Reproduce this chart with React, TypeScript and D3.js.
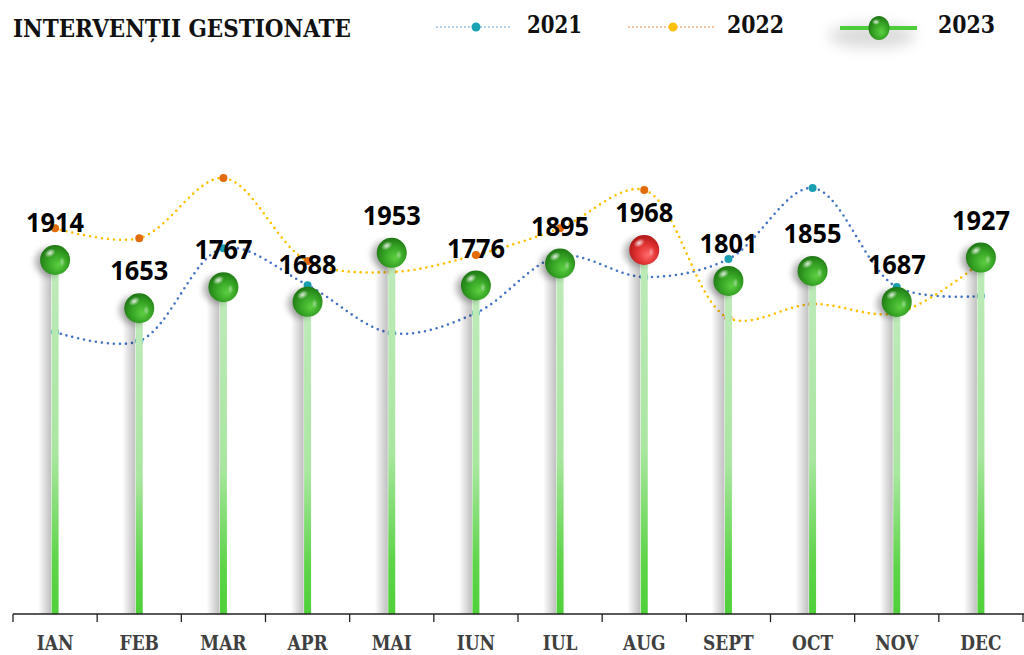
import React from "react";
import * as d3 from "d3";

const months = ["IAN", "FEB", "MAR", "APR", "MAI", "IUN", "IUL", "AUG", "SEPT", "OCT", "NOV", "DEC"];
const values2021 = [1524, 1476, 1978, 1778, 1519, 1627, 1935, 1822, 1919, 2303, 1768, 1719];
const values2022 = [2086, 2032, 2357, 1908, 1849, 1941, 2086, 2292, 1600, 1676, 1627, 1900];
const values2023 = [1914, 1653, 1767, 1688, 1953, 1776, 1895, 1968, 1801, 1855, 1687, 1927];
const seriesNames = ["2021", "2022", "2023"];
const title = "INTERVENȚII GESTIONATE";

const W = 1024;
const H = 655;
const serif = "'DejaVu Serif Condensed', 'DejaVu Serif', serif";
const sans = "'Open Sans', 'Noto Sans', sans-serif";

export default function App() {
  const x = d3.scaleBand<string>().domain(months).range([13, 1023]).padding(0);
  const y = d3.scaleLinear().domain([0, 2500]).range([614, 151.6]);
  const bw = x.bandwidth();
  const cx = (m: string) => (x(m) as number) + bw / 2;

  const line = d3
    .line<number>()
    .x((_, i) => cx(months[i]))
    .y((v) => y(v))
    .curve(d3.curveCatmullRom.alpha(0.5));

  const maxV = d3.max(values2023) as number;
  const ticks = [...months.map((m) => x(m) as number), 1023];
  const baseY = y(0);

  return (
    <svg width={W} height={H} style={{ position: "absolute", left: 0, top: 0, background: "#fff" }}>
      <defs>
        <linearGradient id="stemGrad" x1="0" y1="0" x2="0" y2="1">
          <stop offset="0" stopColor="#bfeabb" />
          <stop offset="0.55" stopColor="#a9e6a0" />
          <stop offset="0.85" stopColor="#5fd44a" />
          <stop offset="1" stopColor="#4fd03a" />
        </linearGradient>
        <linearGradient id="stemShadow" x1="0" y1="0" x2="1" y2="0">
          <stop offset="0" stopColor="#000" stopOpacity="0" />
          <stop offset="1" stopColor="#000" stopOpacity="0.25" />
        </linearGradient>
        <radialGradient id="ballGreen" cx="0.55" cy="0.6" r="0.6" fx="0.62" fy="0.68">
          <stop offset="0" stopColor="#5ccf41" />
          <stop offset="0.55" stopColor="#37a525" />
          <stop offset="1" stopColor="#1f7814" />
        </radialGradient>
        <radialGradient id="ballRed" cx="0.55" cy="0.6" r="0.6" fx="0.62" fy="0.68">
          <stop offset="0" stopColor="#ff6b6b" />
          <stop offset="0.55" stopColor="#e23232" />
          <stop offset="1" stopColor="#b01818" />
        </radialGradient>
        <radialGradient id="hl" cx="0.5" cy="0.5" r="0.5">
          <stop offset="0" stopColor="#fff" stopOpacity="0.85" />
          <stop offset="1" stopColor="#fff" stopOpacity="0" />
        </radialGradient>
        <filter id="blur" x="-50%" y="-50%" width="200%" height="200%">
          <feGaussianBlur stdDeviation="3" />
        </filter>
        <filter id="blurBig" x="-50%" y="-50%" width="200%" height="200%">
          <feGaussianBlur stdDeviation="7" />
        </filter>
      </defs>

      {/* series lines */}
      <path d={line(values2021) as string} fill="none" stroke="#4472c4" strokeWidth={2.6} strokeDasharray="0 6" strokeLinecap="round" />
      <path d={line(values2022) as string} fill="none" stroke="#ffc000" strokeWidth={2.6} strokeDasharray="0 6" strokeLinecap="round" />
      {values2021.map((v, i) => (
        <circle key={"a" + i} cx={cx(months[i])} cy={y(v)} r={4} fill="#1b9fb0" />
      ))}
      {values2022.map((v, i) => (
        <circle key={"b" + i} cx={cx(months[i])} cy={y(v)} r={4} fill="#e36c0a" />
      ))}

      {/* stems */}
      {values2023.map((v, i) => {
        const c = cx(months[i]);
        return (
          <g key={"s" + i}>
            <rect x={c - 17} y={y(v)} width={13} height={baseY - y(v)} fill="url(#stemShadow)" />
            <rect x={c - 3.5} y={y(v)} width={7} height={baseY - y(v)} fill="url(#stemGrad)" />
          </g>
        );
      })}

      {/* balls */}
      {values2023.map((v, i) => {
        const c = cx(months[i]);
        const cy = y(v);
        const isMax = v === maxV;
        return (
          <g key={"ball" + i}>
            <circle cx={c - 6} cy={cy + 2} r={14} fill="#000" opacity={0.3} filter="url(#blur)" />
            <circle cx={c} cy={cy} r={15} fill={isMax ? "url(#ballRed)" : "url(#ballGreen)"} />
            <ellipse cx={c - 5} cy={cy - 7} rx={6} ry={4} fill="url(#hl)" transform={`rotate(-30 ${c - 5} ${cy - 7})`} />
            <ellipse cx={c + 7} cy={cy + 2} rx={3} ry={5} fill="url(#hl)" opacity={0.5} />
          </g>
        );
      })}

      {/* data labels */}
      {values2023.map((v, i) => (
        <text
          key={"l" + i}
          x={cx(months[i])}
          y={y(v) - 28}
          textAnchor="middle"
          fontFamily={sans}
          fontWeight={700}
          fontSize={27}
          textLength={58}
          lengthAdjust="spacingAndGlyphs"
          fill="#000"
        >
          {v}
        </text>
      ))}

      {/* axis */}
      <line x1={13} x2={1024} y1={baseY} y2={baseY} stroke="#222" strokeWidth={1.3} />
      {ticks.map((t, i) => (
        <line key={"t" + i} x1={t} x2={t} y1={baseY} y2={baseY + 8} stroke="#222" strokeWidth={1.3} />
      ))}
      {months.map((m) => (
        <text
          key={m}
          transform={`translate(${cx(m)},650) scale(0.9,1)`}
          textAnchor="middle"
          fontFamily={serif}
          fontWeight={700}
          fontSize={21}
          fill="#404040"
        >
          {m}
        </text>
      ))}

      {/* title */}
      <text x={13} y={36.5} fontFamily={serif} fontWeight={700} fontSize={25} textLength={338} lengthAdjust="spacingAndGlyphs" fill="#111">
        {title}
      </text>

      {/* legend */}
      <line x1={437} x2={512} y1={27} y2={27} stroke="#9dc3e6" strokeWidth={2} strokeDasharray="0 4" strokeLinecap="round" />
      <circle cx={476} cy={27} r={4.5} fill="#1ba3b3" />
      <text x={527} y={33} fontFamily={serif} fontWeight={700} fontSize={25} textLength={55} lengthAdjust="spacingAndGlyphs" fill="#111">
        {seriesNames[0]}
      </text>

      <line x1={629} x2={715} y1={27} y2={27} stroke="#f4b183" strokeWidth={2} strokeDasharray="0 4" strokeLinecap="round" />
      <circle cx={673} cy={27} r={4.5} fill="#ffc000" />
      <text x={727} y={33} fontFamily={serif} fontWeight={700} fontSize={25} textLength={57} lengthAdjust="spacingAndGlyphs" fill="#111">
        {seriesNames[1]}
      </text>

      <ellipse cx={872} cy={36} rx={44} ry={12} fill="#000" opacity={0.14} filter="url(#blurBig)" />
      <line x1={840} x2={917} y1={28} y2={28} stroke="#4fcc3a" strokeWidth={4} />
      <ellipse cx={879} cy={28} rx={10.5} ry={12} fill="url(#ballGreen)" />
      <ellipse cx={876} cy={22} rx={4} ry={3} fill="url(#hl)" />
      <text x={938} y={33} fontFamily={serif} fontWeight={700} fontSize={25} textLength={57} lengthAdjust="spacingAndGlyphs" fill="#111">
        {seriesNames[2]}
      </text>
    </svg>
  );
}
